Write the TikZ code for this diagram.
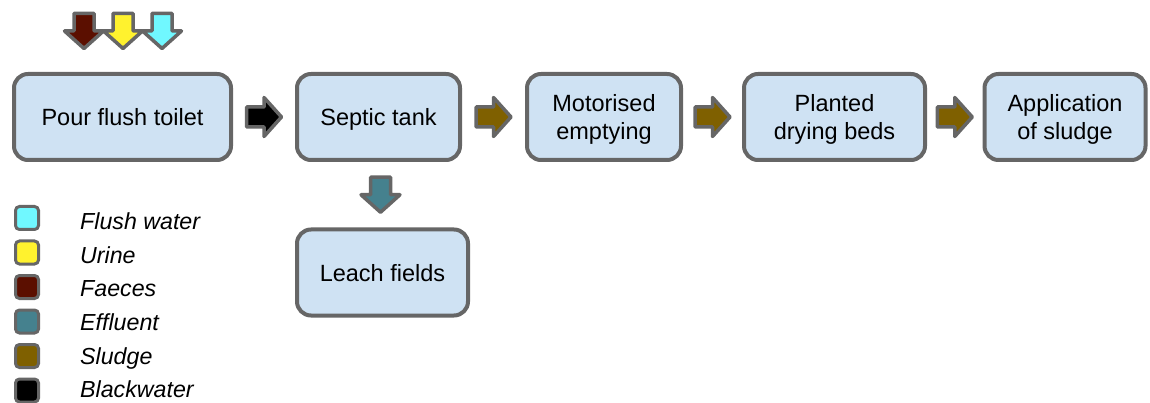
\documentclass[tikz,border=0pt]{standalone}
\usepackage{fontspec}
\setmainfont{Liberation Sans}
\usetikzlibrary{calc}
\definecolor{boxfill}{HTML}{CFE2F3}
\definecolor{bordergray}{HTML}{666666}
\definecolor{flushc}{HTML}{70F8FF}
\definecolor{urinec}{HTML}{FFF22E}
\definecolor{faecesc}{HTML}{5B0F00}
\definecolor{effluentc}{HTML}{45818E}
\definecolor{sludgec}{HTML}{7F6000}
\definecolor{blackc}{HTML}{000000}
\tikzset{
  stagebox/.style={draw=bordergray, line width=4pt, fill=boxfill, rounded corners=14pt,
    minimum height=86pt, align=center, inner sep=0pt, text depth=0pt,
    font=\fontsize{23.5}{27.7}\selectfont},
  legendbox/.style={draw=bordergray, line width=3pt, rounded corners=4pt,
    minimum width=23pt, minimum height=23pt, inner sep=0pt},
  legendtext/.style={anchor=base west, inner sep=0pt,
    font=\fontsize{23.2}{27}\selectfont\itshape},
  pics/blockarrow/.style={code={
    \draw[line width=3.5pt, draw=bordergray, fill=#1, line join=round]
      (-17.5,-10) -- (0,-10) -- (0,-19.5) -- (17.5,0) -- (0,19.5) -- (0,10) -- (-17.5,10) -- cycle;}}
}
\begin{document}
\begin{tikzpicture}[x=1pt, y=-1pt]
\useasboundingbox (0,0) rectangle (1150,403);
% stage boxes
\node[stagebox, minimum width=217pt] (pour) at (122.5,117) {Pour flush toilet};
\node[stagebox, minimum width=163pt] (septic) at (378.5,117) {Septic tank};
\node[stagebox, minimum width=154pt] (motor) at (604,117) {Motorised\\emptying};
\node[stagebox, minimum width=181pt] (planted) at (834.5,117) {Planted\\drying beds};
\node[stagebox, minimum width=161pt] (app) at (1065,117) {Application\\of sludge};
\node[stagebox, minimum width=171pt] (leach) at (382.5,272.5) {Leach fields};
% input arrows
\coordinate (inF) at (84,31);
\coordinate (inU) at (123,31);
\coordinate (inW) at (162,31);
\pic[rotate=-90] at (inF) {blockarrow=faecesc};
\pic[rotate=-90] at (inU) {blockarrow=urinec};
\pic[rotate=-90] at (inW) {blockarrow=flushc};
% flow arrows
\pic at ($(pour.east)!0.5!(septic.west)$) {blockarrow=blackc};
\pic at ($(septic.east)!0.5!(motor.west)$) {blockarrow=sludgec};
\pic at ($(motor.east)!0.5!(planted.west)$) {blockarrow=sludgec};
\pic at ($(planted.east)!0.5!(app.west)$) {blockarrow=sludgec};
\pic[rotate=-90] at ($(septic.south)!0.5!(leach.north)$) {blockarrow=effluentc};
% legend
\node[legendbox, fill=flushc] (l1) at (27,218) {};
\node[legendbox, fill=urinec] (l2) at (27,252.5) {};
\node[legendbox, fill=faecesc] (l3) at (27,287) {};
\node[legendbox, fill=effluentc] (l4) at (27,321.5) {};
\node[legendbox, fill=sludgec] (l5) at (27,356) {};
\node[legendbox, fill=blackc] (l6) at (27,390.5) {};
\node[legendtext] (t1) at (80,229.5) {Flush water};
\node[legendtext] (t2) at (80,263) {Urine};
\node[legendtext] (t3) at (80,296.5) {Faeces};
\node[legendtext] (t4) at (80,330.5) {Effluent};
\node[legendtext] (t5) at (80,364.5) {Sludge};
\node[legendtext] (t6) at (80,397.5) {Blackwater};
\end{tikzpicture}
\end{document}
